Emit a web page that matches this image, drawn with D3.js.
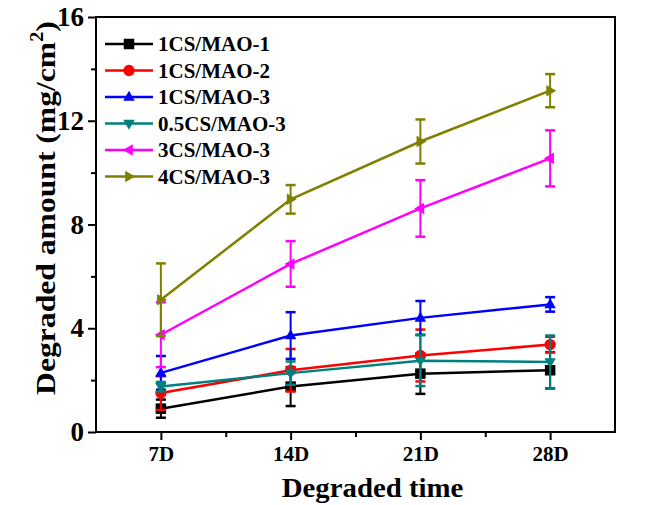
<!DOCTYPE html>
<html>
<head>
<meta charset="utf-8">
<script src="https://cdn.jsdelivr.net/npm/d3@7"></script>
<style>
  html, body { margin: 0; padding: 0; background: #fff; }
  svg text { font-family: "Liberation Serif", "Times New Roman", serif; font-weight: bold; }
</style>
</head>
<body>
<svg id="chart" width="648" height="505"></svg>
<script>
// ---- data ----
const timeLabels = ["7D", "14D", "21D", "28D"];
const days = [7, 14, 21, 28];
const seriesNames = ["1CS/MAO-1", "1CS/MAO-2", "1CS/MAO-3", "0.5CS/MAO-3", "3CS/MAO-3", "4CS/MAO-3"];
const cs1mao1 = [0.90, 1.75, 2.25, 2.38];
const cs1mao1Err = [0.35, 0.75, 0.78, 0.70];
const cs1mao2 = [1.50, 2.38, 2.95, 3.37];
const cs1mao2Err = [0.65, 0.82, 1.00, 0.30];
const cs1mao3 = [2.28, 3.72, 4.40, 4.92];
const cs1mao3Err = [0.65, 0.90, 0.65, 0.28];
const cs05mao3 = [1.75, 2.27, 2.75, 2.70];
const cs05mao3Err = [0.18, 0.45, 0.98, 1.02];
const cs3mao3 = [3.75, 6.48, 8.62, 10.55];
const cs3mao3Err = [1.25, 0.88, 1.09, 1.08];
const cs4mao3 = [5.10, 8.97, 11.20, 13.16];
const cs4mao3Err = [1.40, 0.55, 0.85, 0.64];
const yTicks = [0, 4, 8, 12, 16];
const yMinorTicks = [2, 6, 10, 14];
const xMinorTicks = [10.5, 17.5, 24.5];

const colors = ["#000000", "#ff0000", "#0000ff", "#008080", "#ff00ff", "#808000"];
const markers = ["square", "circle", "up", "down", "left", "right"];
const values = [cs1mao1, cs1mao2, cs1mao3, cs05mao3, cs3mao3, cs4mao3];
const errors = [cs1mao1Err, cs1mao2Err, cs1mao3Err, cs05mao3Err, cs3mao3Err, cs4mao3Err];

const series = seriesNames.map((name, i) => ({
  name, color: colors[i], marker: markers[i],
  points: days.map((d, j) => ({ x: d, y: values[i][j], e: errors[i][j] }))
}));

// ---- layout ----
const L = 96, R = 615, T = 17, B = 432;
const svg = d3.select("#chart");
const x = d3.scaleLinear().domain([3.5, 31.5]).range([L, R]);
const y = d3.scaleLinear().domain([0, 16]).range([B, T]);

function markerPath(type, size) {
  const s = size;
  switch (type) {
    case "square": return d3.symbol(d3.symbolSquare, s * s)();
    case "circle": return d3.symbol(d3.symbolCircle, Math.PI * (s / 2) * (s / 2) * 1.15)();
    default: {
      const h = s * 0.95, w = s * 1.1;
      if (type === "up") return `M0,${-h * 0.62}L${w / 2},${h * 0.38}L${-w / 2},${h * 0.38}Z`;
      if (type === "down") return `M0,${h * 0.62}L${w / 2},${-h * 0.38}L${-w / 2},${-h * 0.38}Z`;
      if (type === "left") return `M${-h * 0.62},0L${h * 0.38},${-w / 2}L${h * 0.38},${w / 2}Z`;
      return `M${h * 0.62},0L${-h * 0.38},${-w / 2}L${-h * 0.38},${w / 2}Z`;
    }
  }
}

// ---- axes ----
const yAxis = d3.axisLeft(y).tickValues(yTicks).tickSize(8).tickPadding(4).tickFormat(d3.format("d"));
const gy = svg.append("g").attr("transform", `translate(${L},0)`).call(yAxis);
gy.select(".domain").remove();
gy.selectAll(".tick line").attr("stroke", "#000").attr("stroke-width", 2);
gy.selectAll(".tick text").attr("font-size", 27).attr("fill", "#000")
  .style("font-family", "'Liberation Serif', serif").style("font-weight", "bold");
const gyMinor = svg.append("g").attr("transform", `translate(${L},0)`)
  .call(d3.axisLeft(y).tickValues(yMinorTicks).tickSize(5).tickFormat(""));
gyMinor.select(".domain").remove();
gyMinor.selectAll(".tick line").attr("stroke", "#000").attr("stroke-width", 2);

const xAxis = d3.axisBottom(x).tickValues(days).tickSize(8).tickPadding(6)
  .tickFormat((d, i) => timeLabels[i]);
const gx = svg.append("g").attr("transform", `translate(0,${B})`).call(xAxis);
gx.select(".domain").remove();
gx.selectAll(".tick line").attr("stroke", "#000").attr("stroke-width", 2);
gx.selectAll(".tick text").attr("font-size", 21).attr("fill", "#000")
  .style("font-family", "'Liberation Serif', serif").style("font-weight", "bold");
const gxMinor = svg.append("g").attr("transform", `translate(0,${B})`)
  .call(d3.axisBottom(x).tickValues(xMinorTicks).tickSize(5).tickFormat(""));
gxMinor.select(".domain").remove();
gxMinor.selectAll(".tick line").attr("stroke", "#000").attr("stroke-width", 2);

// frame
svg.append("rect").attr("x", L).attr("y", T).attr("width", R - L).attr("height", B - T)
  .attr("fill", "none").attr("stroke", "#000").attr("stroke-width", 2);

// axis titles
svg.append("text").attr("transform", `translate(${(L + R) / 2 + 17},497) scale(1.03,1)`)
  .attr("text-anchor", "middle")
  .attr("font-size", 28).attr("fill", "#000").text("Degraded time");
const yt = svg.append("text").attr("transform", `translate(55,208) rotate(-90) scale(1.13,1)`)
  .attr("text-anchor", "middle").attr("font-size", 28).attr("fill", "#000");
yt.append("tspan").text("Degraded amount (mg/cm");
yt.append("tspan").attr("font-size", 18).attr("dy", -12).text("2");
yt.append("tspan").attr("dy", 12).text(")");

// ---- series ----
const line = d3.line().x(d => x(d.x)).y(d => y(d.y));
const gs = svg.append("g");
series.forEach(s => {
  const g = gs.append("g");
  g.append("path").datum(s.points).attr("d", line).attr("fill", "none")
    .attr("stroke", s.color).attr("stroke-width", 2.5);
  const eb = g.selectAll(".eb").data(s.points).enter().append("g");
  eb.append("line").attr("x1", d => x(d.x)).attr("x2", d => x(d.x))
    .attr("y1", d => y(d.y - d.e)).attr("y2", d => y(d.y + d.e))
    .attr("stroke", s.color).attr("stroke-width", 2);
  [-1, 1].forEach(sg => {
    eb.append("line").attr("x1", d => x(d.x) - 5).attr("x2", d => x(d.x) + 5)
      .attr("y1", d => y(d.y + sg * d.e)).attr("y2", d => y(d.y + sg * d.e))
      .attr("stroke", s.color).attr("stroke-width", 2.5);
  });
  g.selectAll(".mk").data(s.points).enter().append("path")
    .attr("transform", d => `translate(${x(d.x)},${y(d.y)})`)
    .attr("d", markerPath(s.marker, 10.5)).attr("fill", s.color);
});

// ---- legend ----
const lg = svg.append("g");
series.forEach((s, i) => {
  const cy = 44 + i * 26.5;
  lg.append("line").attr("x1", 105).attr("x2", 153).attr("y1", cy).attr("y2", cy)
    .attr("stroke", s.color).attr("stroke-width", 2.5);
  lg.append("path").attr("transform", `translate(129,${cy})`).attr("d", markerPath(s.marker, 10.5))
    .attr("fill", s.color);
  lg.append("text").attr("x", 158).attr("y", cy + 7).attr("font-size", 21).attr("fill", "#000")
    .text(s.name);
});
</script>
</body>
</html>
